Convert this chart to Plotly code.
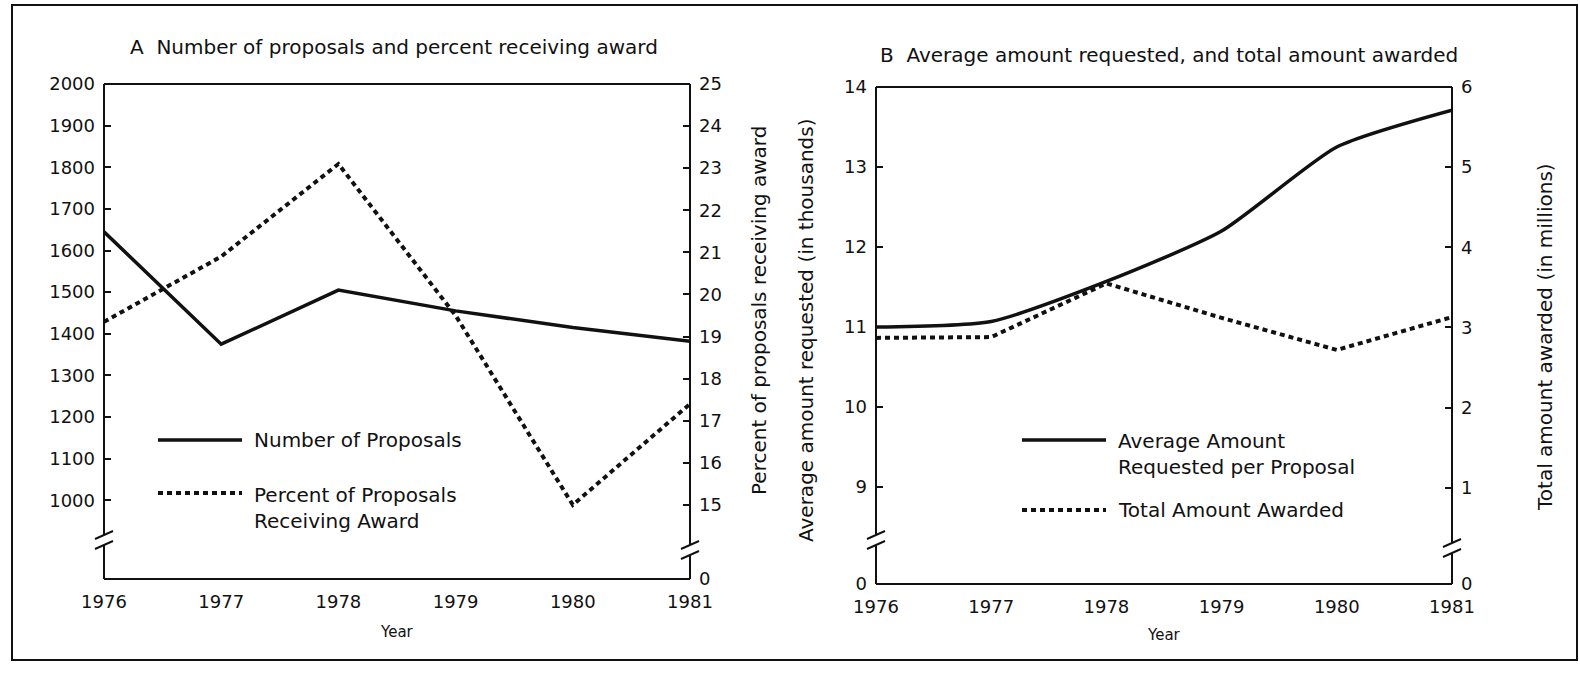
import plotly.graph_objects as go

W, H = 1580, 673

# ---- data -------------------------------------------------------------
years = [1976, 1977, 1978, 1979, 1980, 1981]
year_labels = [str(y) for y in years]

num_proposals = [1645, 1375, 1505, 1455, 1415, 1382]        # panel A, left axis
pct_receiving_award = [19.35, 20.9, 23.1, 19.5, 15.0, 17.4]  # panel A, right axis
avg_requested = [11.0, 11.07, 11.57, 12.2, 13.25, 13.71]    # panel B, left axis (thousands)
total_awarded = [2.87, 2.88, 3.55, 3.12, 2.72, 3.13]         # panel B, right axis (millions)

a_left_ticks = [1000, 1100, 1200, 1300, 1400, 1500, 1600, 1700, 1800, 1900, 2000]
a_right_ticks = [15, 16, 17, 18, 19, 20, 21, 22, 23, 24, 25]
b_left_ticks = [9, 10, 11, 12, 13, 14]
b_right_ticks = [1, 2, 3, 4, 5, 6]

# where the broken axes show their "0"
a_left_zero, a_right_zero = 811, 13.24
b_left_zero, b_right_zero = 7.79, -0.2

FONT = "DejaVu Sans, Liberation Sans, Arial, sans-serif"
INK = "#111111"


def px(x):
    return x / W


def py(y):
    return 1 - y / H


# panel geometry in pixels
A_L, A_R, A_T, A_B = 104, 690, 84, 579
B_L, B_R, B_T, B_B = 876, 1452, 87, 584

fig = go.Figure()

solid = dict(color=INK, width=3.5)
dotted = dict(color=INK, width=4, dash="5px,4px")

fig.add_trace(go.Scatter(x=years, y=num_proposals, mode="lines", line=solid,
                         xaxis="x", yaxis="y", showlegend=False))
fig.add_trace(go.Scatter(x=years, y=pct_receiving_award, mode="lines", line=dotted,
                         xaxis="x", yaxis="y2", showlegend=False))
fig.add_trace(go.Scatter(x=years, y=avg_requested, mode="lines",
                         line=dict(color=INK, width=3.5, shape="spline", smoothing=0.6),
                         xaxis="x2", yaxis="y3", showlegend=False))
fig.add_trace(go.Scatter(x=years, y=total_awarded, mode="lines", line=dotted,
                         xaxis="x2", yaxis="y4", showlegend=False))

tickfont = dict(family=FONT, size=18, color=INK)

xcommon = dict(tickvals=years, ticktext=year_labels, ticks="", showgrid=False,
               zeroline=False, showline=False, tickfont=tickfont, automargin=False,
               ticklabelstandoff=10, fixedrange=True)
ycommon = dict(showgrid=False, zeroline=False, showline=False, ticks="inside",
               ticklen=7, tickwidth=1.5, tickcolor=INK, tickfont=tickfont,
               automargin=False, ticklabelstandoff=8, fixedrange=True)

fig.update_layout(
    template="none",
    width=W, height=H,
    margin=dict(l=0, r=0, t=0, b=0, pad=0, autoexpand=False),
    paper_bgcolor="white", plot_bgcolor="white",
    xaxis=dict(domain=[px(A_L), px(A_R)], range=[1976, 1981], anchor="y", **xcommon),
    yaxis=dict(domain=[py(A_B), py(A_T)], range=[a_left_zero, 2000], anchor="x",
               tickvals=a_left_ticks, ticktext=[str(v) for v in a_left_ticks], **ycommon),
    yaxis2=dict(domain=[py(A_B), py(A_T)], range=[a_right_zero, 25], anchor="x",
                overlaying="y", side="right",
                tickvals=[a_right_zero] + a_right_ticks,
                ticktext=["0"] + [str(v) for v in a_right_ticks], **ycommon),
    xaxis2=dict(domain=[px(B_L), px(B_R)], range=[1976, 1981], anchor="y3", **xcommon),
    yaxis3=dict(domain=[py(B_B), py(B_T)], range=[b_left_zero, 14], anchor="x2",
                tickvals=[b_left_zero] + b_left_ticks,
                ticktext=["0"] + [str(v) for v in b_left_ticks], **ycommon),
    yaxis4=dict(domain=[py(B_B), py(B_T)], range=[b_right_zero, 6], anchor="x2",
                overlaying="y3", side="right",
                tickvals=[b_right_zero] + b_right_ticks,
                ticktext=["0"] + [str(v) for v in b_right_ticks], **ycommon),
)

shapes = []


def seg(x0, y0, x1, y1, w=2, dash=None):
    line = dict(color=INK, width=w)
    if dash:
        line["dash"] = dash
    shapes.append(dict(type="line", xref="paper", yref="paper",
                       x0=px(x0), y0=py(y0), x1=px(x1), y1=py(y1), line=line))


def broken_frame(l, r, t, b, lbreak, rbreak):
    seg(l, t, r, t)                 # top
    seg(l, b, r, b)                 # bottom
    for x, yc in ((l, lbreak), (r, rbreak)):
        seg(x, t, x, yc - 5)        # upper part of the side
        seg(x, yc + 5, x, b)        # lower part of the side
        seg(x - 9, yc - 1, x + 9, yc - 9)   # break slashes
        seg(x - 9, yc + 9, x + 9, yc + 1)


broken_frame(A_L, A_R, A_T, A_B, 540, 550)
broken_frame(B_L, B_R, B_T, B_B, 540, 548)

# outer border
shapes.append(dict(type="rect", xref="paper", yref="paper",
                   x0=px(12), y0=py(660), x1=px(1577), y1=py(5),
                   line=dict(color=INK, width=2)))

# legend samples
seg(158, 440, 242, 440, w=3.5)
seg(158, 493, 242, 493, w=4, dash="5px,4px")
seg(1022, 440, 1106, 440, w=3.5)
seg(1022, 510, 1106, 510, w=4, dash="5px,4px")

annotations = []


def text(x, y, s, size=18, xanchor="left", yanchor="middle", angle=0):
    annotations.append(dict(xref="paper", yref="paper", x=px(x), y=py(y), text=s,
                            showarrow=False, xanchor=xanchor, yanchor=yanchor,
                            textangle=angle, align="left",
                            font=dict(family=FONT, size=size, color=INK)))


text(128, 47, "A&nbsp;&nbsp;Number of proposals and percent receiving award", size=20)
text(878, 55, "B&nbsp;&nbsp;Average amount requested, and total amount awarded", size=20)

text(252, 440, "Number of Proposals", size=20)
text(252, 481, "Percent of Proposals<br>Receiving Award", size=20, yanchor="top")
text(1116, 427, "Average Amount<br>Requested per Proposal", size=20, yanchor="top")
text(1116, 510, "Total Amount Awarded", size=20)

text(397, 632, "Year", size=15, xanchor="center")
text(1164, 635, "Year", size=15, xanchor="center")

text(759, 311, "Percent of proposals receiving award", size=20, xanchor="center", angle=-90)
text(806, 330, "Average amount requested (in thousands)", size=20, xanchor="center", angle=-90)
text(1545, 337, "Total amount awarded (in millions)", size=20, xanchor="center", angle=-90)

fig.update_layout(shapes=shapes, annotations=annotations)

fig.write_html("out.html")
